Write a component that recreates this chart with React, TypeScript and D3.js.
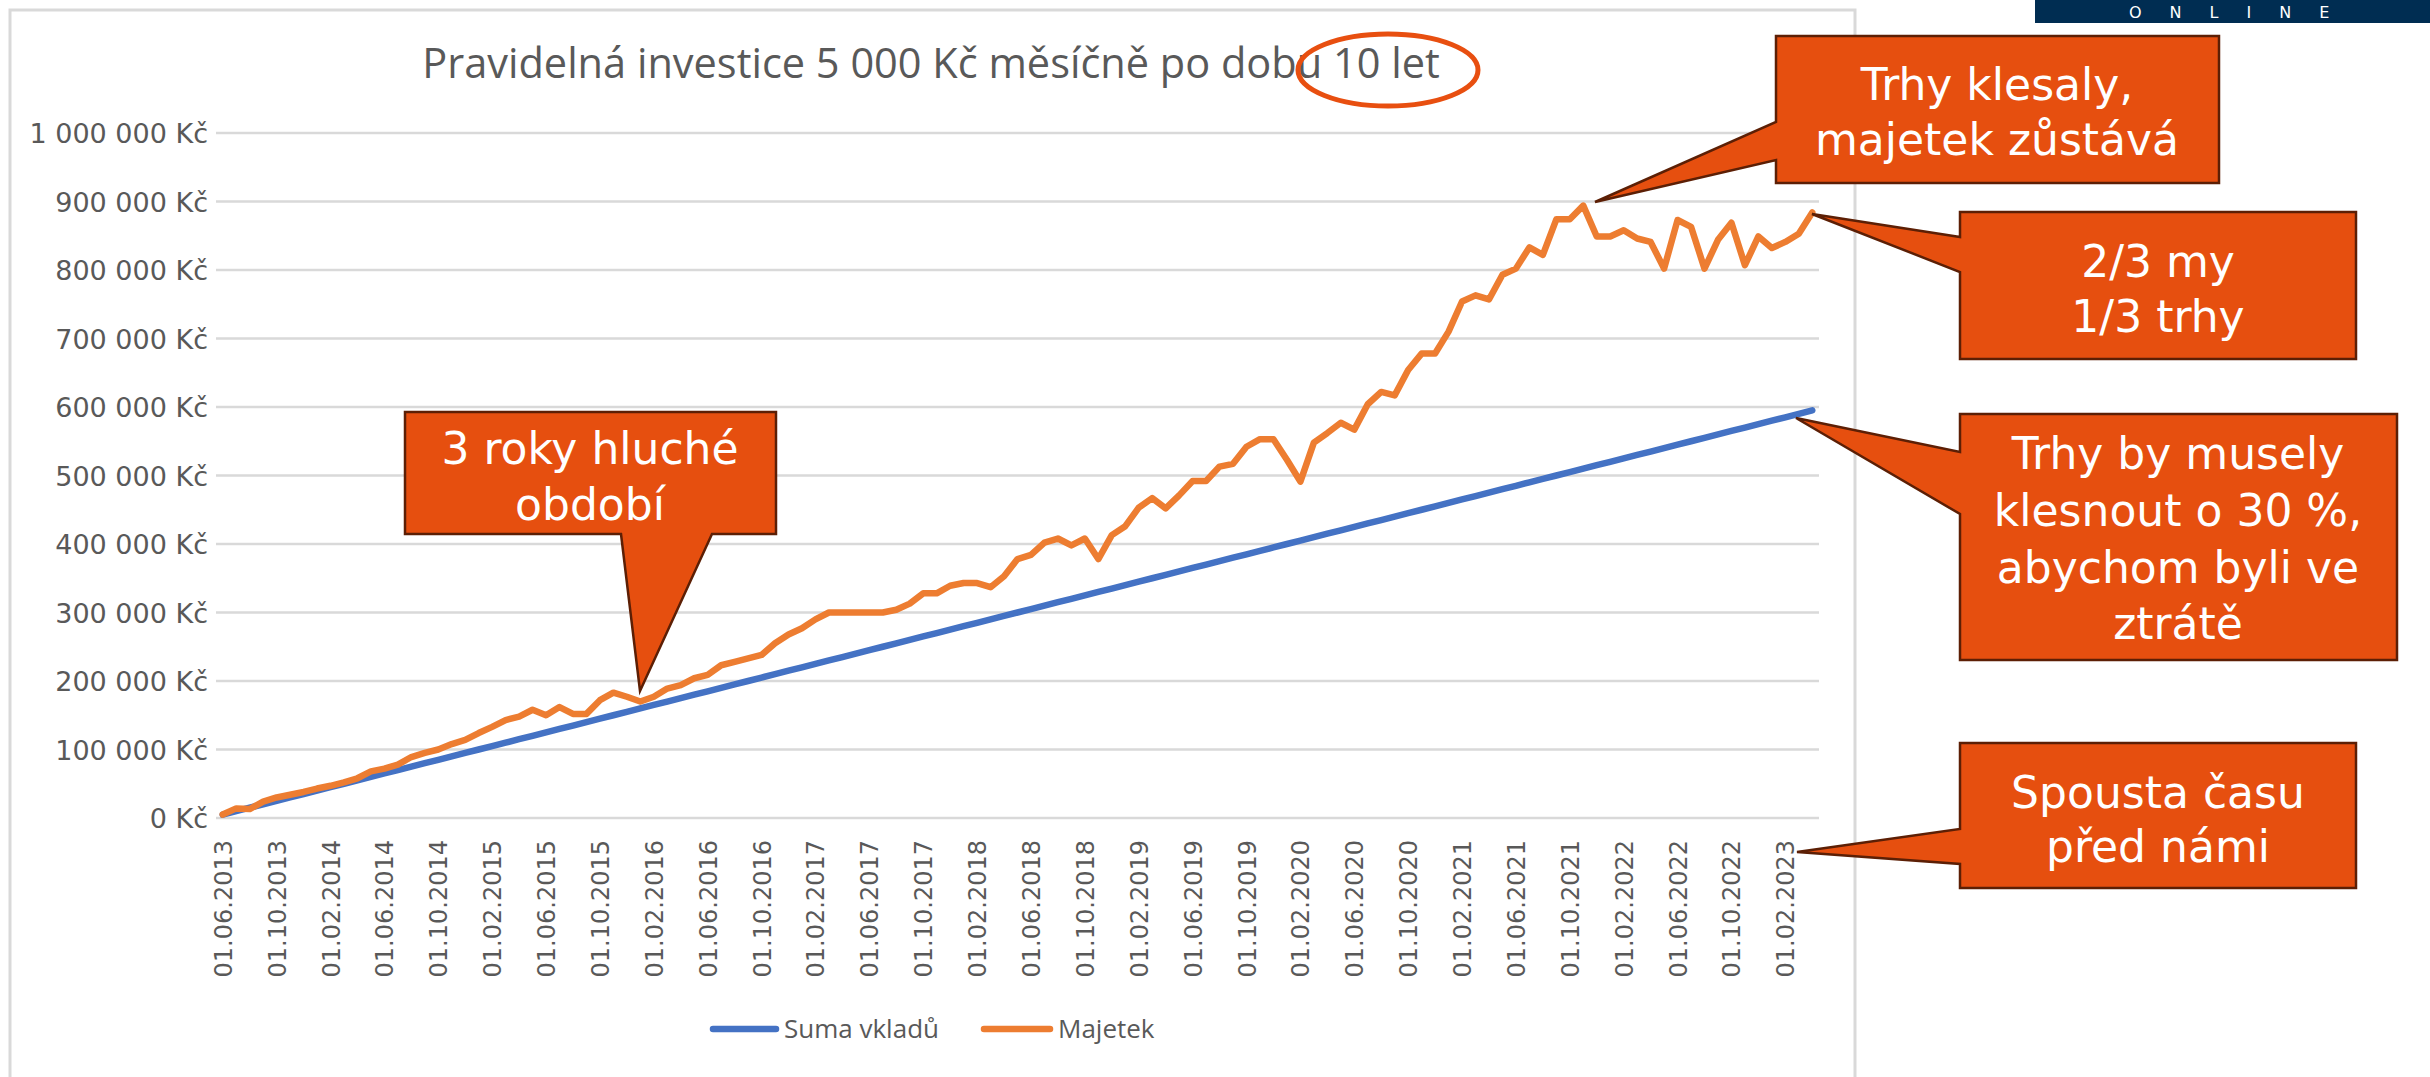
import React from 'react'
import * as d3 from 'd3'

// --- data (values in thousands of Kč) ---
const startYear = 2013
const startMonth = 6
const monthCount = 119
const months: string[] = d3.range(monthCount).map(i => {
  const m = ((startMonth - 1 + i) % 12) + 1
  const yr = startYear + Math.floor((startMonth - 1 + i) / 12)
  return `01.${String(m).padStart(2, '0')}.${yr}`
})

const xTickLabels = [
  '01.06.2013', '01.10.2013',
  '01.02.2014', '01.06.2014', '01.10.2014',
  '01.02.2015', '01.06.2015', '01.10.2015',
  '01.02.2016', '01.06.2016', '01.10.2016',
  '01.02.2017', '01.06.2017', '01.10.2017',
  '01.02.2018', '01.06.2018', '01.10.2018',
  '01.02.2019', '01.06.2019', '01.10.2019',
  '01.02.2020', '01.06.2020', '01.10.2020',
  '01.02.2021', '01.06.2021', '01.10.2021',
  '01.02.2022', '01.06.2022', '01.10.2022',
  '01.02.2023'
]

const yTicks = [0, 100, 200, 300, 400, 500, 600, 700, 800, 900, 1000]
const yTickLabels = [
  '0 Kč', '100 000 Kč', '200 000 Kč', '300 000 Kč', '400 000 Kč', '500 000 Kč',
  '600 000 Kč', '700 000 Kč', '800 000 Kč', '900 000 Kč', '1 000 000 Kč'
]

// Suma vkladů
const sumaVkladu = [
  5, 10, 15, 20, 25, 30, 35, 40, 45, 50, 55, 60, 65, 70, 75, 80, 85, 90, 95, 100,
  105, 110, 115, 120, 125, 130, 135, 140, 145, 150, 155, 160, 165, 170, 175, 180, 185, 190, 195, 200,
  205, 210, 215, 220, 225, 230, 235, 240, 245, 250, 255, 260, 265, 270, 275, 280, 285, 290, 295, 300,
  305, 310, 315, 320, 325, 330, 335, 340, 345, 350, 355, 360, 365, 370, 375, 380, 385, 390, 395, 400,
  405, 410, 415, 420, 425, 430, 435, 440, 445, 450, 455, 460, 465, 470, 475, 480, 485, 490, 495, 500,
  505, 510, 515, 520, 525, 530, 535, 540, 545, 550, 555, 560, 565, 570, 575, 580, 585, 590, 595
]

// Majetek
const majetek = [
  5, 14, 13, 24, 30, 34, 38, 43, 47, 52, 58, 68, 72, 78, 89, 95, 100, 108, 114, 124,
  133, 143, 148, 158, 150, 162, 152, 152, 172, 183, 177, 170, 177, 189, 194, 204, 209, 223, 228, 233,
  238, 255, 268, 277, 290, 300, 300, 300, 300, 300, 304, 313, 328, 328, 339, 343, 343, 337, 353, 378,
  384, 402, 408, 398, 408, 378, 413, 426, 453, 467, 452, 471, 492, 492, 513, 517, 542, 553, 553, 523,
  491, 548, 562, 577, 567, 604, 622, 617, 654, 678, 678, 710, 754, 763, 757, 793, 802, 833, 822, 874,
  874, 894, 849, 849, 858, 846, 841, 802, 873, 863, 802, 844, 869, 807, 849, 832, 841, 853, 884
]

const series = [
  { name: 'Suma vkladů', values: sumaVkladu, color: '#4472C4' },
  { name: 'Majetek', values: majetek, color: '#ED7D31' }
]

// --- annotations (slide callouts) ---
const callouts = [
  {
    points: [[405, 412], [776, 412], [776, 534], [712, 534], [640, 691], [621, 534], [405, 534]],
    cx: 590, lines: ['3 roky hluché', 'období'], baselines: [464, 520]
  },
  {
    points: [[1776, 36], [2219, 36], [2219, 183], [1776, 183], [1776, 160], [1595, 202], [1776, 122]],
    cx: 1997, lines: ['Trhy klesaly,', 'majetek zůstává'], baselines: [100, 155]
  },
  {
    points: [[1960, 212], [2356, 212], [2356, 359], [1960, 359], [1960, 272], [1812, 214], [1960, 237]],
    cx: 2158, lines: ['2/3 my', '1/3 trhy'], baselines: [277, 332]
  },
  {
    points: [[1960, 414], [2397, 414], [2397, 660], [1960, 660], [1960, 514], [1796, 418], [1960, 452]],
    cx: 2178, lines: ['Trhy by musely', 'klesnout o 30 %,', 'abychom byli ve', 'ztrátě'],
    baselines: [469, 526, 583, 639]
  },
  {
    points: [[1960, 743], [2356, 743], [2356, 888], [1960, 888], [1960, 864], [1797, 852], [1960, 829]],
    cx: 2158, lines: ['Spousta času', 'před námi'], baselines: [808, 862]
  }
]

const W = 2430
const H = 1077
const margin = { left: 216, right: 1819, top: 133, bottom: 818 }

export default function App() {
  const x = d3.scalePoint<string>().domain(months).range([margin.left, margin.right]).padding(0.5)
  const y = d3.scaleLinear().domain([0, 1000]).range([margin.bottom, margin.top])

  const line = d3.line<number>()
    .x((_, i) => x(months[i]) as number)
    .y(d => y(d))

  const gray = '#595959'

  return (
    <svg
      width={W}
      height={H}
      style={{ position: 'absolute', left: 0, top: 0, background: '#fff' }}
    >
      {/* chart frame */}
      <rect x={10} y={10} width={1845} height={1090} fill="#fff" stroke="#D9D9D9" strokeWidth={3} />

      {/* title */}
      <text
        x={931}
        y={78}
        textAnchor="middle"
        fontFamily="'Open Sans', sans-serif"
        fontSize={41.5}
        fill={gray}
      >
        Pravidelná investice 5 000 Kč měsíčně po dobu 10 let
      </text>
      <ellipse cx={1388} cy={70} rx={90} ry={36} fill="none" stroke="#E84F10" strokeWidth={5} />

      {/* gridlines */}
      {yTicks.map(t => (
        <line key={t} x1={margin.left} x2={margin.right} y1={y(t)} y2={y(t)} stroke="#D9D9D9" strokeWidth={2.5} />
      ))}

      {/* y labels */}
      {yTicks.map((t, i) => (
        <text
          key={t}
          x={208}
          y={y(t) + 10}
          textAnchor="end"
          fontFamily="'DejaVu Sans', sans-serif"
          fontSize={27}
          fill={gray}
        >
          {yTickLabels[i]}
        </text>
      ))}

      {/* x labels */}
      {xTickLabels.map(lbl => (
        <text
          key={lbl}
          transform={`translate(${(x(lbl) as number) + 9},840) rotate(-90)`}
          textAnchor="end"
          fontFamily="'DejaVu Sans', sans-serif"
          fontSize={24}
          fill={gray}
        >
          {lbl}
        </text>
      ))}

      {/* series */}
      {series.map(s => (
        <path
          key={s.name}
          d={line(s.values) as string}
          fill="none"
          stroke={s.color}
          strokeWidth={6.5}
          strokeLinejoin="round"
          strokeLinecap="round"
        />
      ))}

      {/* legend */}
      <g fontFamily="'Open Sans', sans-serif" fontSize={26} fill={gray}>
        <line x1={713} x2={776} y1={1029} y2={1029} stroke={series[0].color} strokeWidth={6.5} strokeLinecap="round" />
        <text x={784} y={1038}>{series[0].name}</text>
        <line x1={984} x2={1050} y1={1029} y2={1029} stroke={series[1].color} strokeWidth={6.5} strokeLinecap="round" />
        <text x={1058} y={1038}>{series[1].name}</text>
      </g>

      {/* callouts */}
      {callouts.map((c, k) => (
        <g key={k}>
          <polygon
            points={c.points.map(p => p.join(',')).join(' ')}
            fill="#E64F0F"
            stroke="#5C1F05"
            strokeWidth={2.5}
            strokeLinejoin="miter"
          />
          {c.lines.map((l, j) => (
            <text
              key={j}
              x={c.cx}
              y={c.baselines[j]}
              textAnchor="middle"
              fontFamily="'DejaVu Sans', sans-serif"
              fontSize={44}
              fill="#fff"
            >
              {l}
            </text>
          ))}
        </g>
      ))}

      {/* logo strip */}
      <rect x={2035} y={0} width={395} height={23} fill="#002D52" />
      <text
        x={2129}
        y={18}
        fontFamily="'DejaVu Sans', sans-serif"
        fontSize={16}
        letterSpacing={28}
        fill="#fff"
      >
        ONLINE
      </text>
    </svg>
  )
}
